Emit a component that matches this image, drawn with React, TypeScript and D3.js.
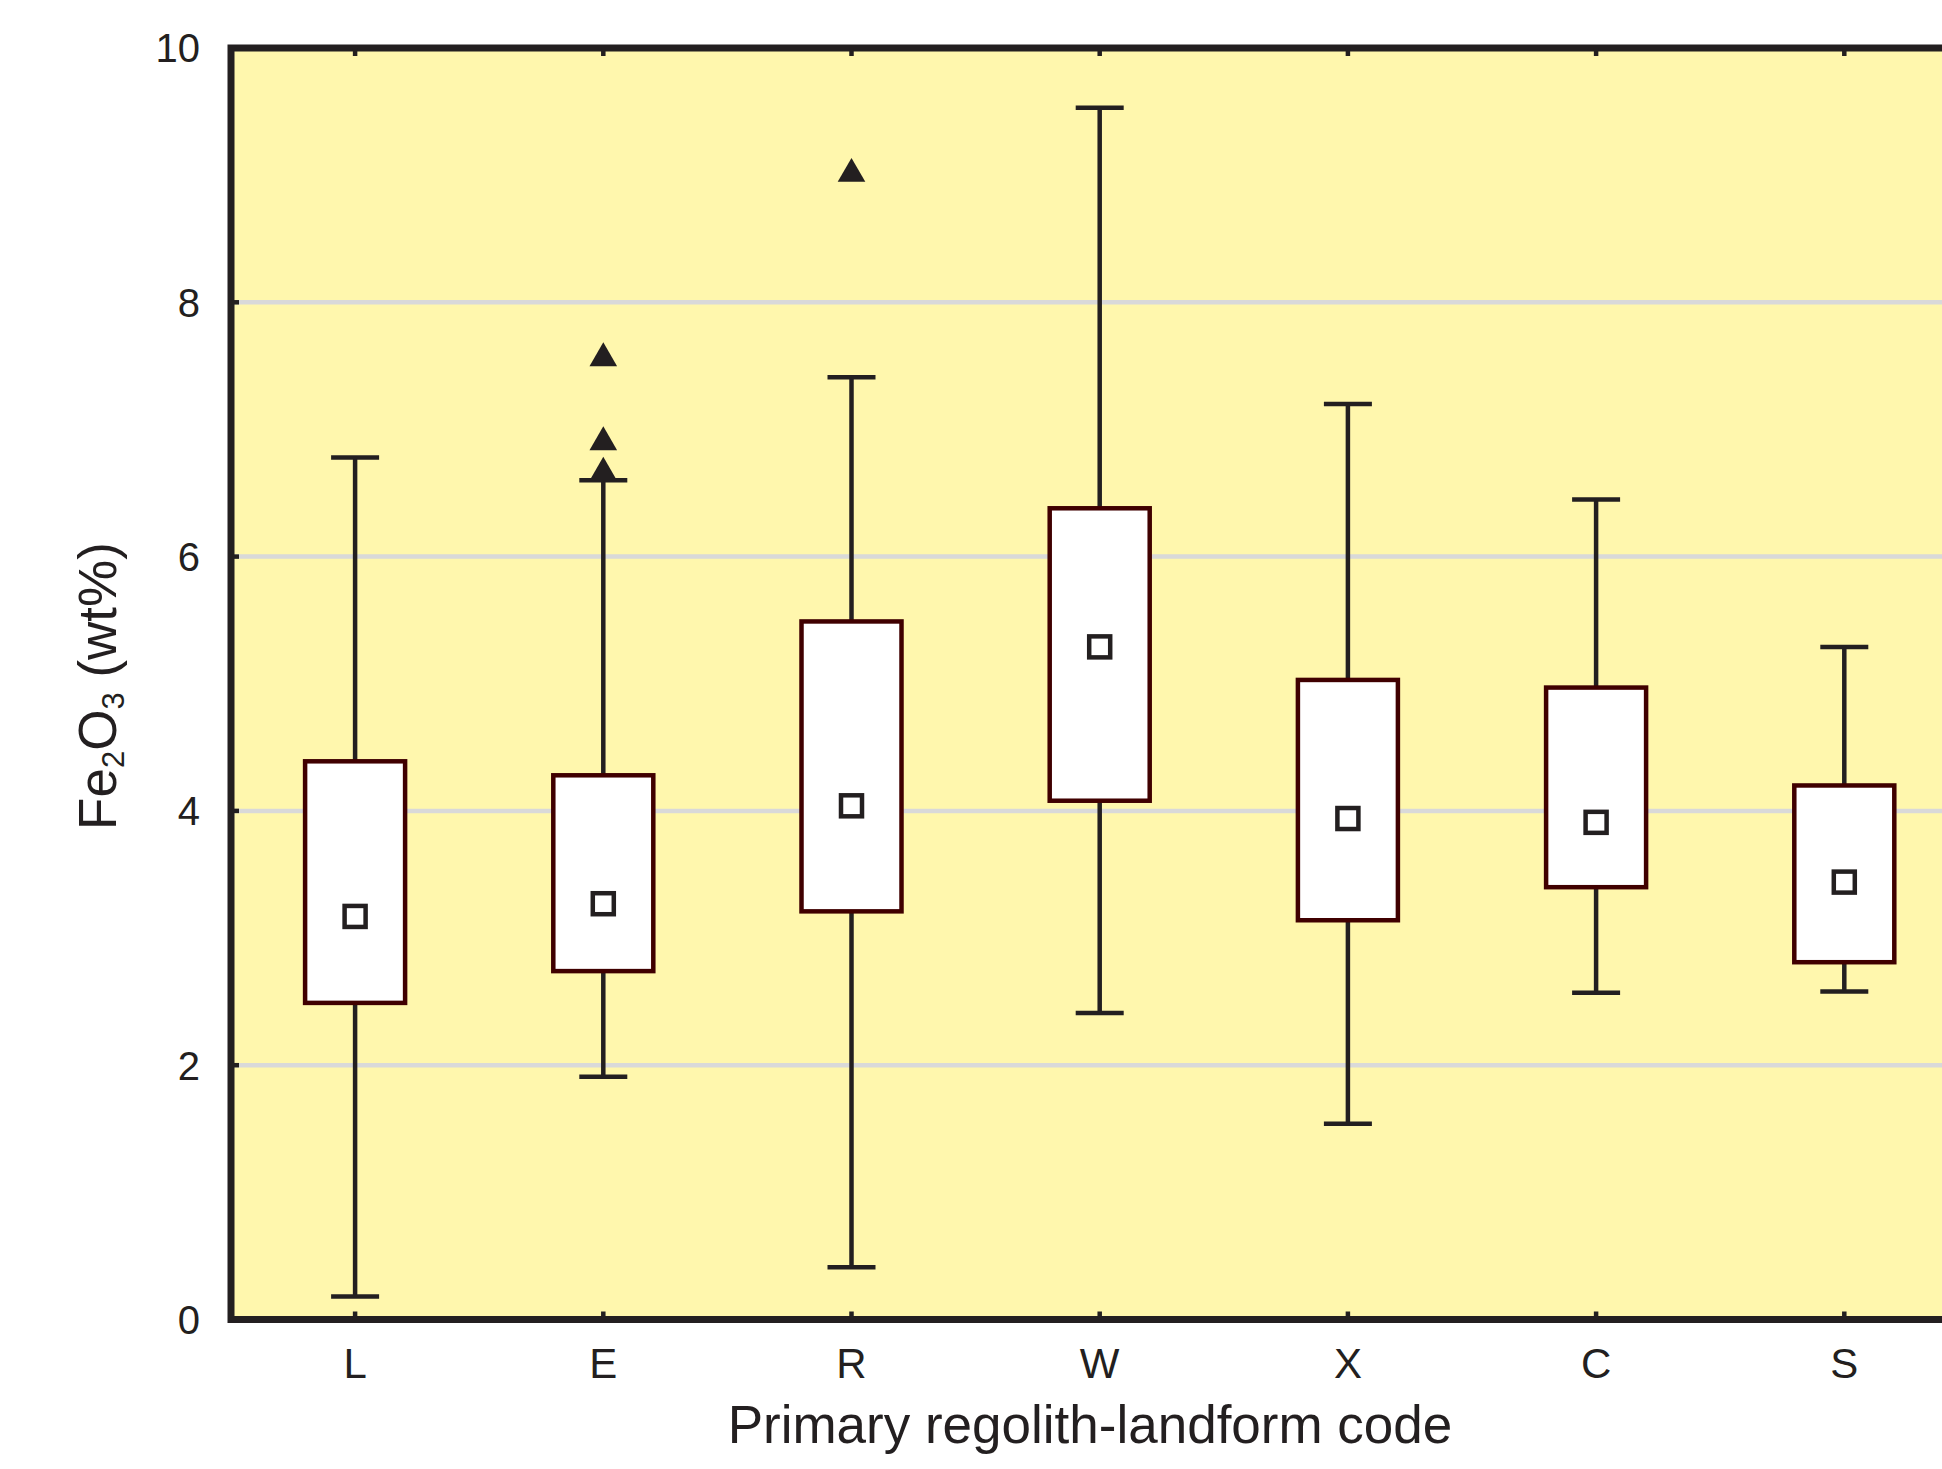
import React, { useEffect, useRef } from "react";
import * as d3 from "d3";

// primary regolith-landform codes
const categories = ["L", "E", "R", "W", "X", "C", "S"];
// box statistics (Fe2O3 wt%)
const whiskerLow = [0.18, 1.91, 0.41, 2.41, 1.54, 2.57, 2.58];
const boxLow = [2.49, 2.74, 3.21, 4.08, 3.14, 3.4, 2.81];
const means = [3.17, 3.27, 4.04, 5.29, 3.94, 3.91, 3.44];
const boxHigh = [4.39, 4.28, 5.49, 6.38, 5.03, 4.97, 4.2];
const whiskerHigh = [6.78, 6.6, 7.41, 9.53, 7.2, 6.45, 5.29];
// outliers
const outlierCats = ["E", "E", "E", "R"];
const outlierValues = [7.56, 6.9, 6.66, 9.01];
const yTicks = [0, 2, 4, 6, 8, 10];

const App = () => {
  const svgRef = useRef(null);

  const width = 1942;
  const height = 1469;
  const left = 231;
  const top = 48;
  const bottom = 1319.5;
  const band = 248.2;
  const font = "'Liberation Sans', Arial, Helvetica, sans-serif";
  const ink = "#231f20";

  useEffect(() => {
    const svg = d3.select(svgRef.current);
    svg.selectAll("*").remove();
    svg.attr("width", width).attr("height", height);

    const x = d3
      .scaleBand()
      .domain(categories)
      .range([left, left + band * categories.length])
      .padding(0);
    const y = d3.scaleLinear().domain([0, 10]).range([bottom, top]);
    const cx = (c) => x(c) + x.bandwidth() / 2;
    const right = left + band * categories.length;

    // plot background
    svg
      .append("rect")
      .attr("x", left)
      .attr("y", top)
      .attr("width", right - left)
      .attr("height", bottom - top)
      .attr("fill", "#fff7ad");

    // grid
    svg
      .append("g")
      .selectAll("line")
      .data(yTicks.filter((d) => d > 0 && d < 10))
      .enter()
      .append("line")
      .attr("x1", left)
      .attr("x2", right)
      .attr("y1", (d) => y(d))
      .attr("y2", (d) => y(d))
      .attr("stroke", "#d9d9d9")
      .attr("stroke-width", 4.5);

    const boxes = svg
      .append("g")
      .selectAll("g")
      .data(categories)
      .enter()
      .append("g");

    // whisker stem
    boxes
      .append("line")
      .attr("x1", (d) => cx(d))
      .attr("x2", (d) => cx(d))
      .attr("y1", (d, i) => y(whiskerLow[i]))
      .attr("y2", (d, i) => y(whiskerHigh[i]))
      .attr("stroke", ink)
      .attr("stroke-width", 4.5);

    // caps
    [whiskerLow, whiskerHigh].forEach((arr) => {
      boxes
        .append("line")
        .attr("x1", (d) => cx(d) - 24)
        .attr("x2", (d) => cx(d) + 24)
        .attr("y1", (d, i) => y(arr[i]))
        .attr("y2", (d, i) => y(arr[i]))
        .attr("stroke", ink)
        .attr("stroke-width", 4.5);
    });

    // boxes
    boxes
      .append("rect")
      .attr("x", (d) => cx(d) - 50)
      .attr("width", 100)
      .attr("y", (d, i) => y(boxHigh[i]))
      .attr("height", (d, i) => y(boxLow[i]) - y(boxHigh[i]))
      .attr("fill", "#ffffff")
      .attr("stroke", "#400000")
      .attr("stroke-width", 4.5);

    // mean markers
    boxes
      .append("rect")
      .attr("x", (d) => cx(d) - 10.5)
      .attr("y", (d, i) => y(means[i]) - 10.5)
      .attr("width", 21)
      .attr("height", 21)
      .attr("fill", "#ffffff")
      .attr("stroke", ink)
      .attr("stroke-width", 4.5);

    // outliers
    const tri = d3.symbol().type(d3.symbolTriangle).size(330);
    svg
      .append("g")
      .selectAll("path")
      .data(outlierValues)
      .enter()
      .append("path")
      .attr("d", tri)
      .attr(
        "transform",
        (d, i) => `translate(${cx(outlierCats[i])},${y(d)})`
      )
      .attr("fill", ink);

    // frame
    svg
      .append("rect")
      .attr("x", left)
      .attr("y", top)
      .attr("width", right - left)
      .attr("height", bottom - top)
      .attr("fill", "none")
      .attr("stroke", ink)
      .attr("stroke-width", 7);

    // inner ticks
    const ticks = svg.append("g").attr("stroke", ink).attr("stroke-width", 4.5);
    categories.forEach((c) => {
      ticks
        .append("line")
        .attr("x1", cx(c))
        .attr("x2", cx(c))
        .attr("y1", top)
        .attr("y2", top + 8);
      ticks
        .append("line")
        .attr("x1", cx(c))
        .attr("x2", cx(c))
        .attr("y1", bottom)
        .attr("y2", bottom - 8);
    });
    yTicks.forEach((t) => {
      ticks
        .append("line")
        .attr("x1", left)
        .attr("x2", left + 8)
        .attr("y1", y(t))
        .attr("y2", y(t));
    });

    // tick labels
    svg
      .append("g")
      .selectAll("text")
      .data(yTicks)
      .enter()
      .append("text")
      .attr("x", 200)
      .attr("y", (d) => y(d))
      .attr("dy", "0.36em")
      .attr("text-anchor", "end")
      .attr("font-family", font)
      .attr("font-size", 40)
      .attr("fill", ink)
      .text((d) => d);

    svg
      .append("g")
      .selectAll("text")
      .data(categories)
      .enter()
      .append("text")
      .attr("x", (d) => cx(d))
      .attr("y", 1378)
      .attr("text-anchor", "middle")
      .attr("font-family", font)
      .attr("font-size", 42)
      .attr("fill", ink)
      .text((d) => d);

    // axis titles
    svg
      .append("text")
      .attr("x", 1090)
      .attr("y", 1443)
      .attr("text-anchor", "middle")
      .attr("font-family", font)
      .attr("font-size", 53)
      .attr("fill", ink)
      .text("Primary regolith-landform code");

    const yt = svg
      .append("text")
      .attr("transform", "translate(116,686) rotate(-90)")
      .attr("text-anchor", "middle")
      .attr("font-family", font)
      .attr("font-size", 53)
      .attr("fill", ink);
    yt.append("tspan").text("Fe");
    yt.append("tspan").attr("font-size", 31).attr("dy", 8).text("2");
    yt.append("tspan").attr("dy", -8).text("O");
    yt.append("tspan").attr("font-size", 31).attr("dy", 8).text("3");
    yt.append("tspan").attr("dy", -8).text(" (wt%)");
  }, []);

  return (
    <div style={{ position: "absolute", left: 0, top: 0 }}>
      <svg ref={svgRef} style={{ display: "block" }}></svg>
    </div>
  );
};

export default App;
